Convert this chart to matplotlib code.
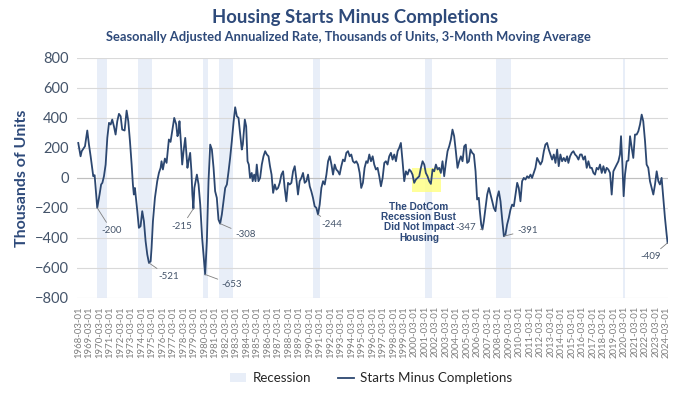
import numpy as np
import matplotlib
matplotlib.use('Agg')
import matplotlib.pyplot as plt
from matplotlib.patches import Patch
from matplotlib.lines import Line2D

plt.rcParams['font.family'] = ['Lato', 'DejaVu Sans']

# ---- data (decimal year, thousands of units) ----
years = [
    1968.12, 1968.34, 1968.45, 1968.76, 1968.98, 1969.14, 1969.30, 1969.40, 1969.55, 1969.68,
    1969.93, 1970.15, 1970.30, 1970.42, 1970.57, 1970.73, 1970.89, 1971.05, 1971.21, 1971.36,
    1971.52, 1971.68, 1971.84, 1972.00, 1972.16, 1972.31, 1972.54, 1972.73, 1972.89, 1973.05,
    1973.21, 1973.33, 1973.42, 1973.52, 1973.75, 1973.90, 1974.06, 1974.22, 1974.38, 1974.54,
    1974.70, 1974.86, 1975.02, 1975.11, 1975.24, 1975.43, 1975.65, 1975.81, 1975.97, 1976.06,
    1976.19, 1976.38, 1976.54, 1976.76, 1976.92, 1977.08, 1977.27, 1977.46, 1977.58, 1977.68,
    1977.77, 1977.90, 1978.03, 1978.16, 1978.32, 1978.41, 1978.53, 1978.63, 1978.79, 1978.91,
    1979.00, 1979.10, 1979.19, 1979.43, 1979.59, 1979.75, 1979.93, 1980.06, 1980.22, 1980.38,
    1980.54, 1980.70, 1980.86, 1981.02, 1981.17, 1981.33, 1981.49, 1981.65, 1981.81, 1981.97,
    1982.13, 1982.29, 1982.45, 1982.60, 1982.76, 1982.92, 1983.08, 1983.24, 1983.40, 1983.56,
    1983.71, 1983.81, 1984.00, 1984.13, 1984.26, 1984.38, 1984.50, 1984.66, 1984.75, 1984.89,
    1985.02, 1985.14, 1985.30, 1985.46, 1985.62, 1985.78, 1985.94, 1986.10, 1986.26, 1986.40,
    1986.55, 1986.70, 1986.86, 1987.01, 1987.17, 1987.33, 1987.49, 1987.65, 1987.80, 1987.96,
    1988.12, 1988.28, 1988.44, 1988.60, 1988.76, 1988.92, 1989.07, 1989.23, 1989.39, 1989.55,
    1989.71, 1989.87, 1990.03, 1990.19, 1990.34, 1990.50, 1990.66, 1990.82, 1990.98, 1991.14,
    1991.30, 1991.46, 1991.62, 1991.78, 1991.94, 1992.10, 1992.26, 1992.41, 1992.57, 1992.72,
    1992.88, 1993.04, 1993.20, 1993.36, 1993.52, 1993.68, 1993.84, 1994.00, 1994.15, 1994.31,
    1994.47, 1994.63, 1994.79, 1994.95, 1995.10, 1995.26, 1995.42, 1995.58, 1995.71, 1995.87,
    1996.03, 1996.19, 1996.34, 1996.50, 1996.66, 1996.82, 1996.98, 1997.14, 1997.30, 1997.45,
    1997.61, 1997.77, 1997.93, 1998.09, 1998.25, 1998.41, 1998.57, 1998.72, 1998.88, 1999.04,
    1999.20, 1999.36, 1999.52, 1999.68, 1999.84, 1999.99, 2000.15, 2000.31, 2000.47, 2000.63,
    2000.79, 2000.95, 2001.11, 2001.26, 2001.42, 2001.58, 2001.74, 2001.90, 2002.06, 2002.22,
    2002.38, 2002.53, 2002.69, 2002.85, 2003.01, 2003.17, 2003.33, 2003.49, 2003.65, 2003.80,
    2003.96, 2004.12, 2004.28, 2004.44, 2004.60, 2004.76, 2004.92, 2005.07, 2005.20, 2005.36,
    2005.52, 2005.68, 2005.84, 2006.00, 2006.15, 2006.31, 2006.41, 2006.54, 2006.66, 2006.79,
    2006.95, 2007.11, 2007.27, 2007.43, 2007.59, 2007.74, 2007.90, 2008.06, 2008.22, 2008.38,
    2008.54, 2008.70, 2008.85, 2009.01, 2009.17, 2009.33, 2009.49, 2009.65, 2009.81, 2009.97,
    2010.12, 2010.28, 2010.44, 2010.60, 2010.76, 2010.92, 2011.08, 2011.24, 2011.39, 2011.55,
    2011.71, 2011.87, 2012.03, 2012.19, 2012.35, 2012.51, 2012.66, 2012.82, 2012.98, 2013.14,
    2013.30, 2013.46, 2013.62, 2013.78, 2013.93, 2014.09, 2014.25, 2014.41, 2014.57, 2014.73,
    2014.85, 2015.01, 2015.17, 2015.33, 2015.49, 2015.65, 2015.81, 2015.97, 2016.12, 2016.28,
    2016.44, 2016.60, 2016.76, 2016.92, 2017.08, 2017.24, 2017.39, 2017.55, 2017.71, 2017.87,
    2018.03, 2018.19, 2018.35, 2018.50, 2018.66, 2018.82, 2018.98, 2019.14, 2019.30, 2019.46,
    2019.62, 2019.77, 2019.87, 2020.00, 2020.12, 2020.25, 2020.41, 2020.57, 2020.73, 2020.89,
    2021.04, 2021.20, 2021.36, 2021.52, 2021.68, 2021.84, 2021.99, 2022.16, 2022.31, 2022.47,
    2022.63, 2022.79, 2022.95, 2023.11, 2023.27, 2023.43, 2023.58, 2023.74, 2023.90, 2024.06,
    2024.22, 2024.31,
]
values = [
    233, 144, 178, 211, 316, 222, 144, 89, 11, 18,
    -200, -111, -44, -33, 11, 89, 267, 367, 356, 389,
    344, 289, 378, 427, 411, 322, 316, 449, 378, 244,
    89, -44, -111, -67, -222, -333, -322, -222, -289, -422,
    -511, -567, -556, -467, -289, -133, -22, 33, 67, 111,
    56, 129, 100, 256, 240, 311, 400, 356, 278, 300,
    378, 244, 89, 178, 267, 178, 67, 111, 167, 44,
    -111, -205, -67, 22, -44, -178, -400, -511, -644, -422,
    -22, 222, 189, 67, -89, -133, -278, -305, -244, -156,
    -67, -44, 44, 133, 244, 367, 471, 411, 400, 289,
    189, 222, 389, 344, 111, 89, 0, 33, -22, 22,
    -22, 89, -22, 0, 89, 144, 178, 156, 144, 78,
    22, -100, -44, -78, -67, -33, 22, 44, -67, -156,
    -33, -44, -33, 44, 78, -11, -111, -22, 0, 33,
    -33, -22, 22, -56, -89, -133, -189, -200, -244, -178,
    -67, -22, -44, 22, 111, 144, 89, 22, 89, 56,
    44, 22, 78, 122, 111, 167, 178, 144, 156, 111,
    100, 111, 89, 33, -67, -33, 67, 111, 100, 156,
    111, 144, 89, 56, 67, 11, -56, 0, 100, 111,
    89, 144, 167, 122, 156, 111, 178, 200, 233, 111,
    -22, 44, 22, 56, 44, 22, -33, -11, 0, 11,
    67, 111, 89, 33, 11, -22, -40, 56, 44, 89,
    56, 67, 33, 111, 11, 100, 178, 211, 256, 322,
    278, 178, 67, 111, 144, 111, 211, 222, 100, 110,
    189, 167, 156, 44, -144, -133, -222, -311, -344, -289,
    -200, -111, -67, -111, -156, -200, -222, -133, -89, -156,
    -278, -389, -378, -311, -267, -211, -178, -189, -111, -33,
    -67, -156, -22, 0, -11, 11, 0, 22, 0, 33,
    67, 133, 111, 89, 111, 178, 222, 233, 189, 156,
    122, 156, 100, 189, 78, 156, 111, 133, 111, 144,
    100, 144, 167, 178, 156, 144, 122, 156, 156, 122,
    144, 67, 111, 67, 67, 33, 22, 67, 56, 89,
    33, 78, 33, 67, 56, 33, -111, 44, 67, 89,
    111, 156, 278, 89, -122, 22, 111, 116, 278, 200,
    133, 289, 289, 311, 356, 422, 378, 244, 89, 67,
    -22, -67, -111, -44, 44, -22, -44, 0, -133, -267,
    -378, -433,
]

rec_start = [1969.92, 1973.83, 1980.00, 1981.50, 1990.50, 2001.17, 2007.92, 2020.08]
rec_end   = [1970.83, 1975.17, 1980.50, 1982.83, 1991.17, 2001.83, 2009.42, 2020.25]

# labelled troughs: point, label, text position
lab_x    = [1969.93, 1974.86, 1979.10, 1980.22, 1981.65, 1990.98, 2006.66, 2008.70, 2024.31]
lab_y    = [-200, -567, -205, -644, -305, -244, -344, -389, -433]
lab_txt  = ['-200', '-521', '-215', '-653', '-308', '-244', '-347', '-391', '-409']
lab_tx   = [1970.35, 1975.75, 1979.00, 1981.81, 1983.08, 1991.30, 2006.05, 2009.96, 2023.70]
lab_ty   = [-353, -658, -322, -711, -378, -311, -329, -349, -527]
lab_ha   = ['left', 'left', 'right', 'left', 'left', 'left', 'right', 'left', 'right']

tick_years = list(range(1968, 2025))

navy = '#2E4A7A'
line_c = '#2C4770'
rec_c = '#E8EEF8'
txt_c = '#44546A'

fig = plt.figure(figsize=(7, 3.94), dpi=100)
ax = fig.add_axes([0.110, 0.244, 0.844, 0.609])

for s, e in zip(rec_start, rec_end):
    ax.axvspan(s, e, color=rec_c, lw=0, zorder=0)

# DotCom highlight box
ax.fill_between([1999.9, 2002.67], -96, 67, color='#FFFF88', alpha=0.85, lw=0, zorder=1)

ax.plot(years, values, color=line_c, lw=1.3, zorder=3)

for px, py, t, tx, ty, ha in zip(lab_x, lab_y, lab_txt, lab_tx, lab_ty, lab_ha):
    ax.annotate(t, xy=(px, py), xytext=(tx, ty), ha=ha, va='center',
                fontsize=7, color=txt_c,
                arrowprops=dict(arrowstyle='-', color='#7F7F7F', lw=0.6,
                                shrinkA=1, shrinkB=0))

ax.text(2000.6, -296, 'The DotCom\nRecession Bust\nDid Not Impact\nHousing',
        ha='center', va='center', fontsize=7.2, fontweight='bold', color=navy,
        family=['Liberation Sans'], linespacing=1.05, zorder=4)

ax.set_xlim(1968.0, 2024.33)
ax.set_ylim(-800, 800)
ax.set_yticks(np.arange(-800, 801, 200))
ax.yaxis.grid(True, color='#D9D9D9', lw=0.8)
ax.set_axisbelow(True)
ax.tick_params(axis='y', length=0, labelsize=10.5, labelcolor=txt_c, pad=6)
ax.set_xticks([y + 2 / 12 for y in tick_years])
ax.set_xticklabels([f'{y}-03-01' for y in tick_years], rotation=90,
                   fontsize=6.9, color='#7F7F7F')
ax.tick_params(axis='x', length=0, pad=6)
for s in ax.spines.values():
    s.set_visible(False)
ax.axhline(0, color='#BFBFBF', lw=0.8, zorder=1)

ax.set_ylabel('Thousands of Units', fontsize=11.5, fontweight='bold', color=navy, labelpad=4)

fig.text(0.507, 0.955, 'Housing Starts Minus Completions', ha='center', va='center',
         fontsize=13.3, fontweight='bold', color=navy)
fig.text(0.498, 0.905, 'Seasonally Adjusted Annualized Rate, Thousands of Units, 3-Month Moving Average',
         ha='center', va='center', fontsize=9.3, fontweight='bold', color=navy)

handles = [Patch(facecolor=rec_c, edgecolor='none'), Line2D([0], [0], color=line_c, lw=1.3)]
fig.legend(handles, ['Recession', 'Starts Minus Completions'], loc='center',
           bbox_to_anchor=(0.53, 0.04), ncol=2, frameon=False, fontsize=9.6,
           handlelength=1.2, handletextpad=0.5, columnspacing=2.0, labelcolor='#262626')

fig.savefig('out.png', dpi=100)
